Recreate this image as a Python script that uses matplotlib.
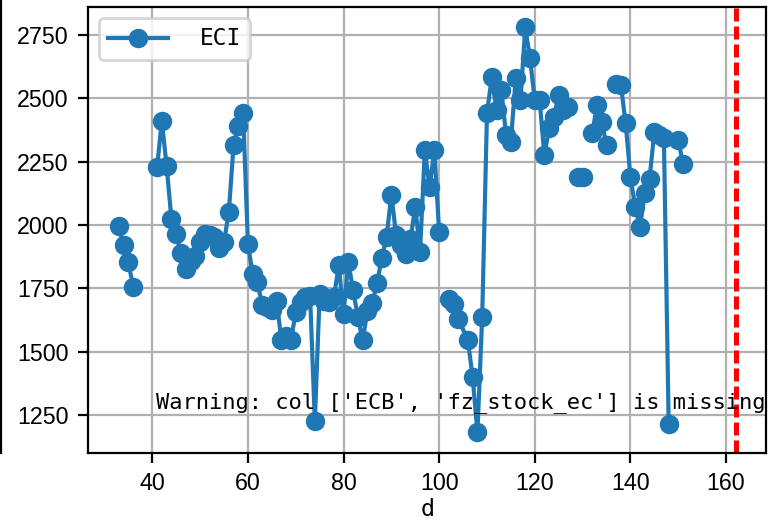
import numpy as np
import matplotlib
matplotlib.use("Agg")
import matplotlib.pyplot as plt
import matplotlib.ticker as ticker
from matplotlib.lines import Line2D

nan = np.nan

# d values (105 has no row, NaN rows break the line)
d = [33, 34, 35, 36, 37, 38, 39, 40,
     41, 42, 43, 44, 45, 46, 47, 48, 49, 50,
     51, 52, 53, 54, 55, 56, 57, 58, 59, 60,
     61, 62, 63, 64, 65, 66, 67, 68, 69, 70,
     71, 72, 73, 74, 75, 76, 77, 78, 79, 80,
     81, 82, 83, 84, 85, 86, 87, 88, 89, 90,
     91, 92, 93, 94, 95, 96, 97, 98, 99, 100,
     101, 102, 103, 104, 106, 107, 108, 109, 110,
     111, 112, 113, 114, 115, 116, 117, 118, 119, 120,
     121, 122, 123, 124, 125, 126, 127, 128, 129, 130,
     131, 132, 133, 134, 135, 136, 137, 138, 139, 140,
     141, 142, 143, 144, 145, 146, 147, 148, 149, 150,
     151]

eci = [1995, 1921, 1854, 1756, nan, nan, nan, nan,
       2228, 2412, 2232, 2025, 1964, 1892, 1828, 1858, 1880, 1934,
       1966, 1963, 1955, 1911, 1935, 2050, 2315, 2391, 2442, 1927,
       1806, 1775, 1683, 1677, 1664, 1702, 1545, 1562, 1545, 1657,
       1697, 1717, 1722, 1226, 1727, 1702, 1697, 1717, 1841, 1651,
       1854, 1743, 1637, 1545, 1662, 1692, 1770, 1871, 1953, 2120,
       1961, 1921, 1888, 1946, 2073, 1894, 2296, 2150, 2296, 1971,
       nan, 1710, 1687, 1631, 1545, 1400, 1182, 1637, 2441,
       2585, 2454, 2533, 2355, 2329, 2579, 2493, 2781, 2658, 2493,
       2495, 2276, 2382, 2428, 2513, 2454, 2467, nan, 2190, 2190,
       nan, 2362, 2473, 2408, 2315, nan, 2559, 2553, 2402, 2190,
       2072, 1992, 2125, 2184, 2368, 2355, 2342, 1215, nan, 2335,
       2243]

cutoff = 162
warn_msg = "Warning: col ['ECB', 'fz_stock_ec'] is missing"

plt.rcParams["font.family"] = ["Liberation Sans", "DejaVu Sans"]
mono = "DejaVu Sans Mono"

fig = plt.figure(figsize=(769 / 200, 522 / 200), dpi=200)
ax = fig.add_axes([0.1144, 0.1328, 0.8823, 0.8538])

ax.plot(d, eci, marker="o", label="ECI")
ax.axvline(cutoff, color="red", linestyle="--", linewidth=1.8, dashes=(2.6, 1.0))

ax.xaxis.set_major_locator(ticker.MultipleLocator(20))
ax.yaxis.set_major_locator(ticker.MultipleLocator(250))
ax.tick_params(labelsize=8.4)
ax.grid(True)

ax.legend(loc="upper left", prop={"family": mono, "size": 8.2},
          handlelength=2.6, handletextpad=1.4)
ax.text(0.1, 0.1, warn_msg, transform=ax.transAxes, family=mono, fontsize=7.95)
ax.set_xlabel("d", family=mono, fontsize=8.4, labelpad=1)

# edge of a neighbouring panel, cut off on the left
fig.add_artist(Line2D([0.0015, 0.0015], [1 - 452.7 / 522, 1],
                      transform=fig.transFigure, color="black", linewidth=0.8))

fig.savefig("out.png", dpi=200)
